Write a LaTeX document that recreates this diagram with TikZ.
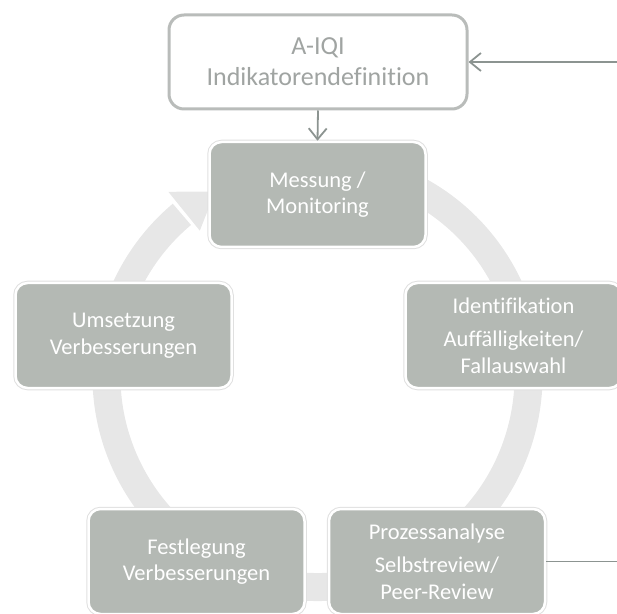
\documentclass[tikz,border=0pt]{standalone}
\usepackage{fontspec}
\setmainfont{Carlito}[Ligatures=NoCommon]
\usepackage{tikz}
\usepackage{xcolor}
\usetikzlibrary{shapes,arrows.meta}
\definecolor{boxgray}{RGB}{180,185,180}
\definecolor{ringgray}{RGB}{231,231,231}
\definecolor{linegray}{RGB}{140,148,145}
\definecolor{framegray}{RGB}{185,188,186}
\definecolor{textgray}{RGB}{160,164,162}

\begin{document}
\begin{tikzpicture}[x=1pt,y=1pt]
		\tikzstyle{phase}=[rectangle,rounded corners=12pt,minimum width=216pt,minimum height=105pt,inner sep=0pt,fill=boxgray,draw=white,line width=2.5pt,preaction={draw=black!12,line width=4.5pt},text=white,align=center,font=\fontsize{22.5}{26.5}\selectfont]
		\tikzstyle{source}=[rectangle,rounded corners=15pt,minimum width=298pt,minimum height=94pt,inner sep=0pt,fill=white,draw=framegray,line width=3pt,text=textgray,align=center,font=\fontsize{26}{31}\selectfont]
		\tikzstyle{ring}=[draw=ringgray,line width=28pt]
		\tikzstyle{link}=[draw=linegray,line width=1.8pt]
		\tikzstyle{head}=[-{Straight Barb[length=11pt,width=18pt,line width=1.8pt]}]

		\clip (0,0) rectangle (617,613);
		\coordinate (ctr) at (317.5,237);

		% cycle ring with its arrow head
		\draw[ring] (ctr) ++(75:211) arc[start angle=75,end angle=-230,radius=211];
		\fill[ringgray,shift={(ctr)}] (129:237) -- (119:211) -- (129:187) -- cycle;

		\node [source] (aiqi) at (318,551) {A-IQI\\Indikatorendefinition};
		\node [phase] (mess) at (317.5,418.5) {Messung /\\Monitoring};
		\node [phase] (ident) at (513.5,277.5) {Identifikation\\[7pt]Auffälligkeiten/\\Fallauswahl};
		\node [phase] (umset) at (123.5,277.5) {Umsetzung\\Verbesserungen};
		\node [phase] (fest) at (196.5,51.5) {Festlegung\\Verbesserungen};
		\node [phase] (proz) at (437,51.5) {Prozessanalyse\\[7pt]Selbstreview/\\Peer-Review};

		\coordinate (inR) at (617,551);
		\coordinate (outR) at (617,51.5);
		\draw[link,head] (inR) -- (aiqi.east);
		\draw[link,head] (aiqi.south) -- (mess.north);
		\draw[link] (proz.east) -- (outR);
\end{tikzpicture}
\end{document}
